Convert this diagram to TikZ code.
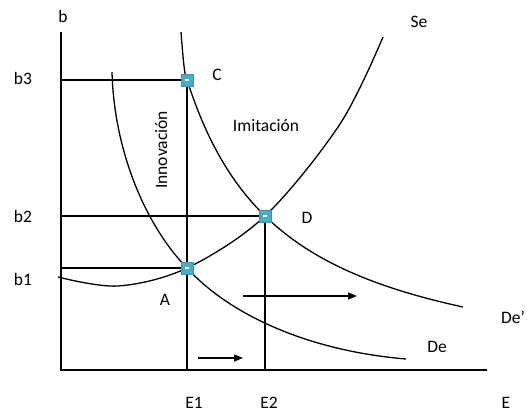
\documentclass[tikz,border=0pt]{standalone}
\usepackage{fontspec}
\setmainfont{Carlito}
\usepackage{xcolor}
\definecolor{ptfill}{HTML}{4BACC6}
\usepackage{tikz}
\usetikzlibrary{arrows.meta}

\begin{document}
\begin{tikzpicture}[
  x=1pt, y=-1pt,
  font=\fontsize{17.5}{20}\selectfont,
  axis/.style={line width=1.2pt},
  guide/.style={line width=1.1pt},
  curve/.style={line width=1.3pt},
  pt/.style={
    fill=ptfill, draw=ptfill!85!black, line width=0.3pt,
    minimum size=11.5pt, inner sep=0pt,
    path picture={\fill[white] ([xshift=-2pt,yshift=-0.8pt]path picture bounding box.center) rectangle ++(4pt,1.6pt);}
  },
  lbl/.style={anchor=base, inner sep=0pt},
  arr/.style={-{Triangle[length=9pt,width=7pt]}, line width=1.2pt}
]
  \useasboundingbox (0,0) rectangle (527,413);

  % axes
  \coordinate (O) at (61,370);
  \coordinate (ytop) at (61,32);
  \coordinate (xend) at (487,370);
  \draw[axis] (ytop) -- (O) -- (xend);

  % equilibrium points
  \coordinate (C) at (187,80);
  \coordinate (D) at (265,216);
  \coordinate (A) at (187,268);
  \coordinate (yC) at (61,80);
  \coordinate (yD) at (61,216);
  \coordinate (yA) at (61,268);
  \coordinate (xC) at (187,370);
  \coordinate (xD) at (265,370);

  \draw[guide] (yC) -- (C);
  \draw[guide] (yD) -- (D);
  \draw[guide] (yA) -- (A);
  \draw[guide] (C) -- (xC);
  \draw[guide] (D) -- (xD);

  % curves De', De, Se
  \draw[curve] (181,32) .. controls (182,45) and (184,70.5) .. (185.5,75.3)
    -- plot[domain=185.5:463, samples=80] (\x, {388.3-304.57/((\x-88.2)*0.01)});
  \draw[curve] (112,72) .. controls (114,150) and (145,225) .. (A)
    .. controls (225,310) and (300,350) .. (406,359);
  \draw[curve] plot[smooth, tension=0.55] coordinates {(58,277) (118,286) (187,268)
    (265,216) (340,124) (383,37)};

  % shifts
  \coordinate (a1) at (243,296);
  \coordinate (a2) at (357,296);
  \coordinate (a3) at (198,358);
  \coordinate (a4) at (243,358);
  \draw[arr] (a1) -- (a2);
  \draw[arr] (a3) -- (a4);

  \node[pt] (mC) at (C) {};
  \node[pt] (mD) at (D) {};
  \node[pt] (mA) at (A) {};

  % labels
  \node[lbl] (lb) at (63,22) {b};
  \node[lbl] (lb3) at (23,84) {b3};
  \node[lbl] (lb2) at (23,222) {b2};
  \node[lbl] (lb1) at (23,285) {b1};
  \node[lbl] (lE1) at (194,408) {E1};
  \node[lbl] (lE2) at (269,408) {E2};
  \node[lbl] (lE) at (506,408) {E};
  \node[lbl] (lSe) at (419,27) {Se};
  \node[lbl, anchor=base west] (lDep) at (501,323) {De’};
  \node[lbl] (lDe) at (437,352) {De};
  \node[lbl] (lC) at (217,80) {C};
  \node[lbl] (lD) at (307,223) {D};
  \node[lbl] (lA) at (165,305) {A};
  \node[lbl] (lImi) at (266,131) {Imitación};
  \node[lbl, rotate=90] (lInn) at (167,150) {Innovación};
\end{tikzpicture}
\end{document}
